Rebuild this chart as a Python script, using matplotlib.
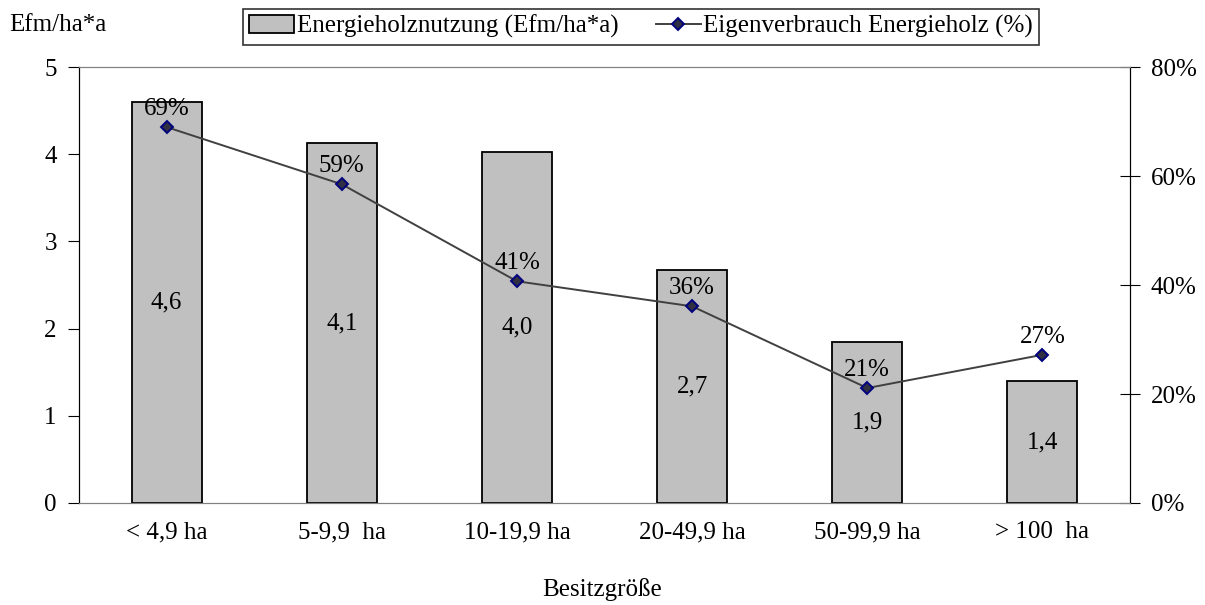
import numpy as np
import matplotlib.pyplot as plt
from matplotlib.ticker import FuncFormatter

plt.rcParams['font.family'] = ['Liberation Serif', 'DejaVu Serif']
plt.rcParams['font.size'] = 18

# data
categories = ['< 4,9 ha', '5-9,9  ha', '10-19,9 ha', '20-49,9 ha', '50-99,9 ha', '> 100  ha']
nutzung = [4.6, 4.13, 4.03, 2.67, 1.85, 1.40]          # Efm/ha*a
eigenverbrauch = [69, 58.5, 40.7, 36.1, 21.1, 27.2]     # %
nutzung_labels = ['4,6', '4,1', '4,0', '2,7', '1,9', '1,4']
eigen_labels = ['69%', '59%', '41%', '36%', '21%', '27%']

x = np.arange(len(categories))

fig = plt.figure(figsize=(12.05, 6.05), dpi=100)
ax = fig.add_axes([0.0656, 0.1686, 0.8722, 0.7204])
ax2 = ax.twinx()

bars = ax.bar(x, nutzung, width=0.4, color='#c0c0c0', edgecolor='black',
              linewidth=1.3, label='Energieholznutzung (Efm/ha*a)', zorder=2)
for xi, v, lab in zip(x, nutzung, nutzung_labels):
    ax.text(xi, v / 2, lab, ha='center', va='center')

line, = ax2.plot(x, eigenverbrauch, color='#404040', linewidth=1.4,
                 marker='D', markersize=6.5, markerfacecolor='#303040',
                 markeredgecolor='#000080', markeredgewidth=1.4,
                 label='Eigenverbrauch Energieholz (%)', zorder=3)
for xi, v, lab in zip(x, eigenverbrauch, eigen_labels):
    ax2.annotate(lab, (xi, v), xytext=(0, 5), textcoords='offset points',
                 ha='center', va='bottom')

ax.set_xlim(-0.5, len(categories) - 0.5)
ax.set_ylim(0, 5)
ax2.set_ylim(0, 80)
ax.set_yticks(range(0, 6))
ax2.set_yticks(range(0, 81, 20))
ax2.yaxis.set_major_formatter(FuncFormatter(lambda v, p: '%d%%' % v))
ax.set_xticks(x)
ax.set_xticklabels(categories)

ax.tick_params(axis='x', length=0, pad=13)
ax.tick_params(axis='y', direction='out', length=8, pad=8)
ax2.tick_params(axis='y', direction='inout', length=14, pad=8)

for a in (ax, ax2):
    a.spines['top'].set_color('#808080')
    a.spines['bottom'].set_color('#808080')
    a.spines['left'].set_color('black')
    a.spines['right'].set_color('black')

ax.set_zorder(ax2.get_zorder() - 1)
ax2.patch.set_visible(False)

fig.text(0.008, 0.958, 'Efm/ha*a', ha='left', va='center')
fig.text(0.5, 0.025, 'Besitzgröße', ha='center', va='center')

leg = fig.legend([bars, line], [bars.get_label(), line.get_label()],
                 loc='center', bbox_to_anchor=(0.532, 0.956), ncol=2,
                 frameon=True, fancybox=False, edgecolor='black',
                 handlelength=1.8, handletextpad=0.1, columnspacing=1.5,
                 borderpad=0.25)
leg.get_frame().set_linewidth(1.2)

fig.savefig('out.png', dpi=100)
